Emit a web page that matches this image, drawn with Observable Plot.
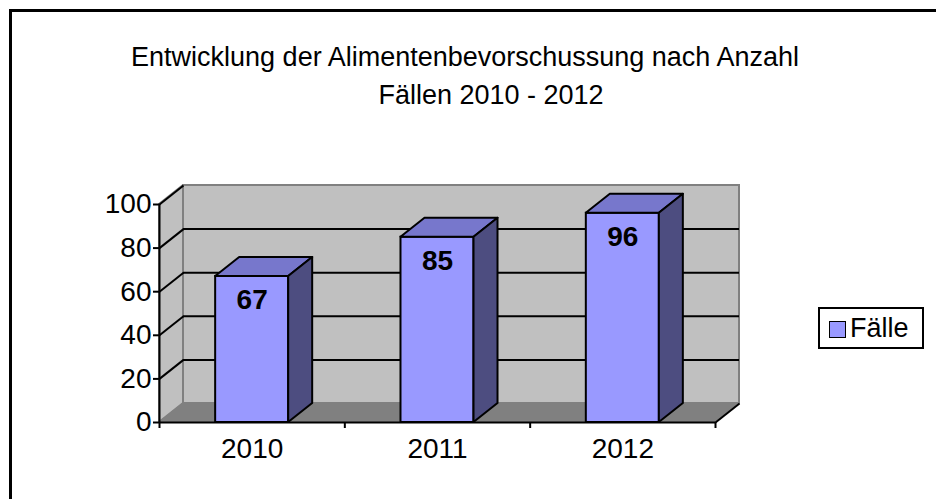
<!DOCTYPE html>
<html>
<head>
<meta charset="utf-8">
<script src="https://cdn.jsdelivr.net/npm/d3@7"></script>
<script src="https://cdn.jsdelivr.net/npm/@observablehq/plot@0.6"></script>
<style>
  html, body { margin: 0; padding: 0; background: #fff; }
  #wrap { position: relative; width: 936px; height: 499px; overflow: hidden; font-family: "Liberation Sans", Arial, sans-serif; color: #000; }
  #frame { position: absolute; left: 9px; top: 9px; width: 1000px; height: 1000px; border-left: 3px solid #000; border-top: 3px solid #000; }
  .title { position: absolute; font-size: 27px; white-space: nowrap; transform: translate(-50%, -50%); line-height: 1; }
  #chart { position: absolute; left: 0; top: 0; }
  #legend { position: absolute; left: 818px; top: 307px; width: 102px; height: 38px; border: 2px solid #000; box-sizing: content-box; }
  #legend .sw { position: absolute; left: 9px; top: 12px; width: 15px; height: 15px; background: #9999FF; border: 1.5px solid #000; }
  #legend .lb { position: absolute; left: 30px; top: 5px; font-size: 27px; line-height: 28px; }
</style>
</head>
<body>
<div id="wrap">
  <div id="frame"></div>
  <div class="title" id="t1" style="left:465px; top:57px;"></div>
  <div class="title" id="t2" style="left:491px; top:95px;"></div>
  <div id="chart"></div>
  <div id="legend"><div class="sw"></div><div class="lb" id="lg"></div></div>
</div>
<script>
// ---- data ----
const titleLines = ["Entwicklung der Alimentenbevorschussung nach Anzahl", "Fällen 2010 - 2012"];
const seriesName = "Fälle";
const years = ["2010", "2011", "2012"];
const faelle = [67, 85, 96];
const yTicks = [0, 20, 40, 60, 80, 100];

document.getElementById("t1").textContent = titleLines[0];
document.getElementById("t2").textContent = titleLines[1];
document.getElementById("lg").textContent = seriesName;

// ---- layout constants ----
const W = 936, H = 499;
const X0 = 159, X1 = 715, Y0 = 422, Y1 = 204;
const n = years.length;
const depthPxX = 24, depthPxY = 19;
const DDX = depthPxX * n / (X1 - X0);      // depth in x-data units
const DDY = depthPxY * 100 / (Y0 - Y1);    // depth in y-data units
const BW = 0.394;                           // bar width (band units)

const bars = years.map((y, i) => ({year: y, i, v: faelle[i], xl: i + 0.5 - BW / 2, xr: i + 0.5 + BW / 2}));
const topFaces = bars.flatMap(b => [
  {z: b.year, y: b.v, x1: b.xl, x2: b.xr},
  {z: b.year, y: b.v + DDY, x1: b.xl + DDX, x2: b.xr + DDX}
]);
const sideFaces = bars.flatMap(b => [
  {z: b.year, x: b.xr, y1: 0, y2: b.v},
  {z: b.year, x: b.xr + DDX, y1: DDY, y2: b.v + DDY}
]);

const FS = 28;
const chart = Plot.plot({
  width: W, height: H,
  marginLeft: X0, marginRight: W - X1, marginTop: Y1, marginBottom: H - Y0,
  x: {type: "linear", domain: [0, n], axis: null},
  y: {type: "linear", domain: [0, 100], axis: null},
  style: {fontFamily: "'Liberation Sans', Arial, sans-serif", color: "#000", background: "transparent", overflow: "visible"},
  marks: [
    Plot.rect([0], {x1: DDX, x2: n + DDX, y1: DDY, y2: 100 + DDY, fill: "#C0C0C0", stroke: "#808080", strokeWidth: 2}),
    Plot.areaY([{x: 0, y1: 0, y2: 100}, {x: DDX, y1: DDY, y2: 100 + DDY}], {x: "x", y1: "y1", y2: "y2", fill: "#C0C0C0", stroke: "#808080", strokeWidth: 2}),
    Plot.areaX([{y: 0, x1: 0, x2: n}, {y: DDY, x1: DDX, x2: n + DDX}], {y: "y", x1: "x1", x2: "x2", fill: "#808080", stroke: "#808080", strokeWidth: 1}),
    Plot.ruleY(yTicks.filter(t => t > 0 && t < 100), {y: d => d + DDY, x1: DDX, x2: n + DDX, stroke: "#000", strokeWidth: 2}),
    Plot.link(yTicks.filter(t => t > 0), {x1: 0, y1: d => d, x2: DDX, y2: d => d + DDY, stroke: "#000", strokeWidth: 2}),
    Plot.link([0], {x1: n, y1: 0, x2: n + DDX, y2: DDY, stroke: "#000", strokeWidth: 2}),
    Plot.ruleX([0], {y1: 0, y2: 100, stroke: "#000", strokeWidth: 2}),
    Plot.ruleY([0], {x1: 0, x2: n, stroke: "#000", strokeWidth: 2}),
    Plot.axisY({ticks: yTicks, tickSize: 6, tickPadding: 2, fontSize: FS, strokeWidth: 2, tickFormat: d => String(d)}),
    Plot.axisX({ticks: d3.range(n + 1), tickSize: 6, tickFormat: () => "", strokeWidth: 2}),
    Plot.text(years, {x: (d, i) => i + 0.5, y: 0, text: d => d, dy: 27, fontSize: FS, lineAnchor: "middle", fill: "#000"}),
    Plot.rect(bars, {x1: "xl", x2: "xr", y1: 0, y2: "v", fill: "#9999FF", stroke: "#000", strokeWidth: 2}),
    Plot.areaX(topFaces, {y: "y", x1: "x1", x2: "x2", z: "z", fill: "#7777CC", stroke: "#000", strokeWidth: 2}),
    Plot.areaY(sideFaces, {x: "x", y1: "y1", y2: "y2", z: "z", fill: "#4D4D80", stroke: "#000", strokeWidth: 2}),
    Plot.text(bars, {x: d => d.i + 0.5, y: "v", text: d => String(d.v), dy: 24, fontSize: FS, fontWeight: "bold", lineAnchor: "middle", fill: "#000"})
  ]
});
document.getElementById("chart").appendChild(chart);
</script>
</body>
</html>
